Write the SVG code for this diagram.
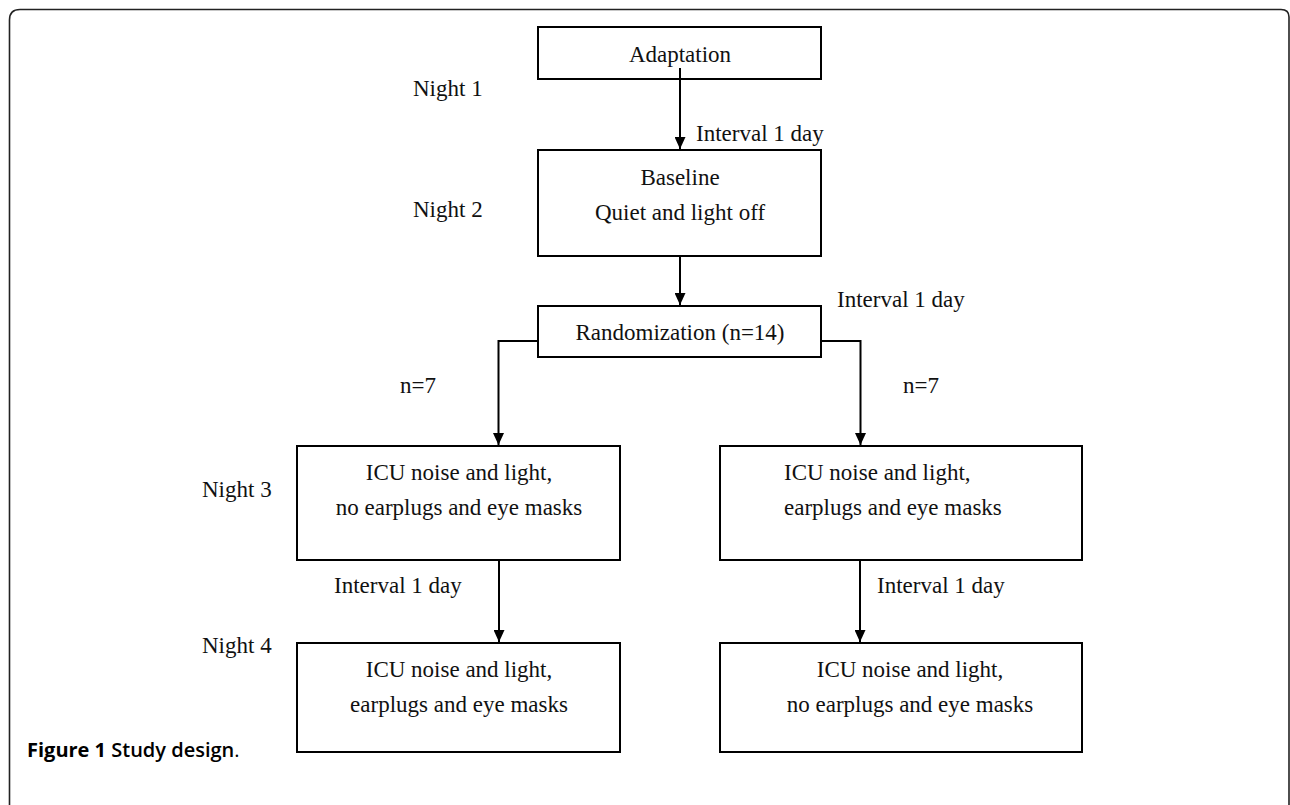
<svg xmlns="http://www.w3.org/2000/svg" width="1290" height="805" viewBox="0 0 1290 805">
<style>
.box{fill:#fff;stroke:#000;stroke-width:2}
.t{font-family:"Liberation Serif","Times New Roman",serif;font-size:23px;fill:#111}
.c{text-anchor:middle}
.ln{fill:none;stroke:#000;stroke-width:2}
.cap{font-family:"Open Sans","Noto Sans",sans-serif;font-size:20px;fill:#000}
</style>
<defs>
<marker id="ah" viewBox="0 0 12 11" refX="12" refY="5.5" markerWidth="12" markerHeight="11" markerUnits="userSpaceOnUse" orient="auto">
<path d="M0 0 L12 5.5 L0 11 Z" fill="#000"/>
</marker>
</defs>
<rect width="1290" height="805" fill="#fff"/>
<path d="M9.5 805 V20 Q9.5 9.5 20 9.5 H1281 Q1289 9.5 1289 17 V805" fill="none" stroke="#222" stroke-width="1.6"/>
<g id="labels">
<text class="t" x="413" y="96">Night 1</text>
<text class="t" x="413" y="217">Night 2</text>
<text class="t" x="202" y="497">Night 3</text>
<text class="t" x="202" y="653">Night 4</text>
<text class="t" x="696" y="141">Interval 1 day</text>
<text class="t" x="837" y="307">Interval 1 day</text>
<text class="t" x="400" y="393">n=7</text>
<text class="t" x="903" y="393">n=7</text>
<text class="t" x="334" y="593">Interval 1 day</text>
<text class="t" x="877" y="593">Interval 1 day</text>
</g>
<g id="adaptation">
<rect class="box" x="538" y="27" width="283" height="52"/>
<text class="t c" x="680" y="62">Adaptation</text>
</g>
<g id="baseline">
<rect class="box" x="538" y="150" width="283" height="106"/>
<text class="t c" x="680" y="185">Baseline</text>
<text class="t c" x="680" y="220">Quiet and light off</text>
</g>
<g id="randomization">
<rect class="box" x="538" y="306" width="283" height="51"/>
<text class="t c" x="680" y="340">Randomization (n=14)</text>
</g>
<g id="left3">
<rect class="box" x="297" y="446" width="323" height="114"/>
<text class="t c" x="459" y="480">ICU noise and light,</text>
<text class="t c" x="459" y="515">no earplugs and eye masks</text>
</g>
<g id="right3">
<rect class="box" x="720" y="446" width="362" height="114"/>
<text class="t" x="784" y="480">ICU noise and light,</text>
<text class="t" x="784" y="515">earplugs and eye masks</text>
</g>
<g id="left4">
<rect class="box" x="297" y="643" width="323" height="109"/>
<text class="t c" x="459" y="677">ICU noise and light,</text>
<text class="t c" x="459" y="712">earplugs and eye masks</text>
</g>
<g id="right4">
<rect class="box" x="720" y="643" width="362" height="109"/>
<text class="t c" x="910" y="677">ICU noise and light,</text>
<text class="t c" x="910" y="712">no earplugs and eye masks</text>
</g>
<g id="connectors">
<path class="ln" d="M680 68 V149" marker-end="url(#ah)"/>
<path class="ln" d="M680 256 V305" marker-end="url(#ah)"/>
<path class="ln" d="M538 341 H498.5 V445" marker-end="url(#ah)"/>
<path class="ln" d="M821 341 H860.5 V445" marker-end="url(#ah)"/>
<path class="ln" d="M499 560 V642" marker-end="url(#ah)"/>
<path class="ln" d="M860 560 V642" marker-end="url(#ah)"/>
</g>
<text class="cap" x="27" y="757"><tspan font-weight="bold">Figure 1</tspan><tspan font-weight="600"> Study design</tspan>.</text>
</svg>
